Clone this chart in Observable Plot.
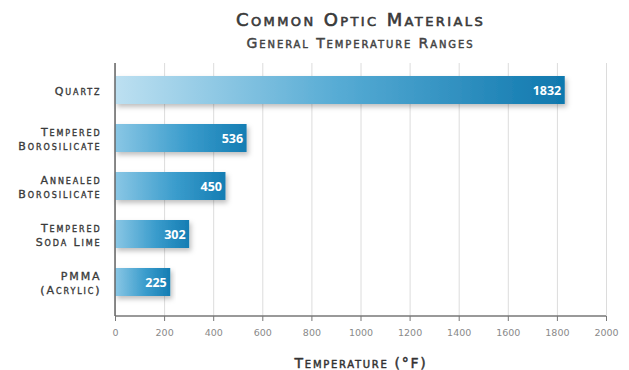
<!DOCTYPE html>
<html>
<head>
<meta charset="utf-8">
<script src="https://cdn.jsdelivr.net/npm/d3@7"></script>
<script src="https://cdn.jsdelivr.net/npm/@observablehq/plot@0.6"></script>
<style>
  html, body { margin: 0; padding: 0; background: #fff; }
  #wrap { width: 629px; height: 370px; position: relative; font-family: "DejaVu Sans", sans-serif; }
  #title { position: absolute; left: 115px; width: 491px; top: 10px; line-height: 20px; text-align: center; font-size: 18px; font-variant: small-caps; color: #3a3a3a; letter-spacing: 2.4px; -webkit-text-stroke: 0.6px #3a3a3a; }
  #subtitle { position: absolute; left: 115px; width: 491px; top: 35px; line-height: 16px; text-align: center; font-size: 14px; font-variant: small-caps; color: #444; letter-spacing: 1.9px; -webkit-text-stroke: 0.45px #444; }
  #chart { position: absolute; left: 0; top: 55px; }
</style>
</head>
<body>
<div id="wrap">
  <div id="title">Common Optic Materials</div>
  <div id="subtitle">General Temperature Ranges</div>
  <div id="chart"></div>
</div>
<script>
const materials = ["Quartz", "Tempered Borosilicate", "Annealed Borosilicate", "Tempered Soda Lime", "PMMA (Acrylic)"];
const labels = ["Quartz", "Tempered\nBorosilicate", "Annealed\nBorosilicate", "Tempered\nSoda Lime", "PMMA\n(Acrylic)"];
const temps = [1832, 536, 450, 302, 225];
const xTicks = [0, 200, 400, 600, 800, 1000, 1200, 1400, 1600, 1800, 2000];
const xLabel = "Temperature (°F)";

const data = materials.map((m, i) => ({name: m, label: labels[i], temp: temps[i]}));

const defs = () => {
  const svg = d3.create("svg:defs");
  const g = svg.append("linearGradient").attr("id", "gradLong").attr("x1", 0).attr("x2", 1).attr("y1", 0).attr("y2", 0);
  g.append("stop").attr("offset", "0%").attr("stop-color", "#bde0f1");
  g.append("stop").attr("offset", "50%").attr("stop-color", "#56abd4");
  g.append("stop").attr("offset", "100%").attr("stop-color", "#0f78ae");
  const h = svg.append("linearGradient").attr("id", "gradShort").attr("x1", 0).attr("x2", 1).attr("y1", 0).attr("y2", 0);
  h.append("stop").attr("offset", "0%").attr("stop-color", "#8ac7e5");
  h.append("stop").attr("offset", "55%").attr("stop-color", "#3a9ccc");
  h.append("stop").attr("offset", "100%").attr("stop-color", "#157db3");
  const f = svg.append("filter").attr("id", "shadow").attr("x", "-5%").attr("y", "-30%").attr("width", "115%").attr("height", "170%");
  f.append("feDropShadow").attr("dx", 2).attr("dy", 3).attr("stdDeviation", 2.5).attr("flood-color", "#000").attr("flood-opacity", 0.25);
  return svg.node();
};

const axisLines = (index, scales, values, dims) => {
  const g = d3.create("svg:g");
  const x0 = scales.x(0), x1 = scales.x(2000);
  const yb = dims.height - dims.marginBottom;
  g.append("line").attr("x1", x0).attr("x2", x1).attr("y1", yb).attr("y2", yb).attr("stroke", "#777").attr("stroke-width", 1.5);
  g.append("line").attr("x1", x0).attr("x2", x0).attr("y1", dims.marginTop + 8).attr("y2", yb).attr("stroke", "#666").attr("stroke-width", 1.5);
  return g.node();
};

const chart = Plot.plot({
  width: 629,
  height: 315,
  marginLeft: 115,
  marginRight: 23,
  marginTop: 0,
  marginBottom: 54,
  style: {fontFamily: "DejaVu Sans, sans-serif", background: "transparent", overflow: "visible"},
  x: {domain: [0, 2000], ticks: xTicks, tickFormat: d => String(d), tickSize: 5, tickPadding: 7, label: null},
  y: {domain: materials, padding: 0.42, axis: null},
  marks: [
    defs,
    Plot.ruleX(xTicks, {stroke: "#dcdcdc", strokeWidth: 1, insetTop: 8}),
    Plot.barX(data, {y: "name", x: "temp", fill: d => d.temp > 1000 ? "url(#gradLong)" : "url(#gradShort)"}),
    Plot.text(data, {y: "name", x: "temp", text: d => String(d.temp), textAnchor: "end", dx: -4, fill: "white", fontWeight: "bold", fontSize: 12.5, fontFamily: "Open Sans, sans-serif", ariaDescription: "values"}),
    Plot.text(data, {y: "name", x: 0, text: "label", textAnchor: "end", dx: -14, fill: "#3a3a3a", stroke: "#3a3a3a", strokeWidth: 0.35, fontSize: 11, lineHeight: 1.3, fontVariant: "small-caps", ariaDescription: "ylabels"}),
    axisLines,
    Plot.axisX({ticks: xTicks, tickFormat: d => String(d), tickSize: 5, tickPadding: 8, stroke: "#777", fill: "#8a8a8a", fontSize: 9.5, label: null}),
    Plot.text([xLabel], {frameAnchor: "bottom", dy: 51, fill: "#333", stroke: "#333", strokeWidth: 0.45, fontSize: 14, fontVariant: "small-caps", ariaDescription: "xtitle"})
  ]
});
const svgSel = d3.select(chart);
svgSel.selectAll("g[aria-label='bar'] rect").attr("filter", "url(#shadow)");
const textGroups = svgSel.selectAll("g[aria-label='text']").nodes();
const byDesc = (desc, idx) => {
  let n = svgSel.select(`g[aria-description='${desc}']`).node();
  if (!n) n = textGroups[idx];
  return d3.select(n);
};
byDesc("ylabels", 1).style("letter-spacing", "1.9px");
byDesc("xtitle", 2).style("letter-spacing", "1.7px");
document.getElementById("chart").appendChild(chart);
</script>
</body>
</html>
